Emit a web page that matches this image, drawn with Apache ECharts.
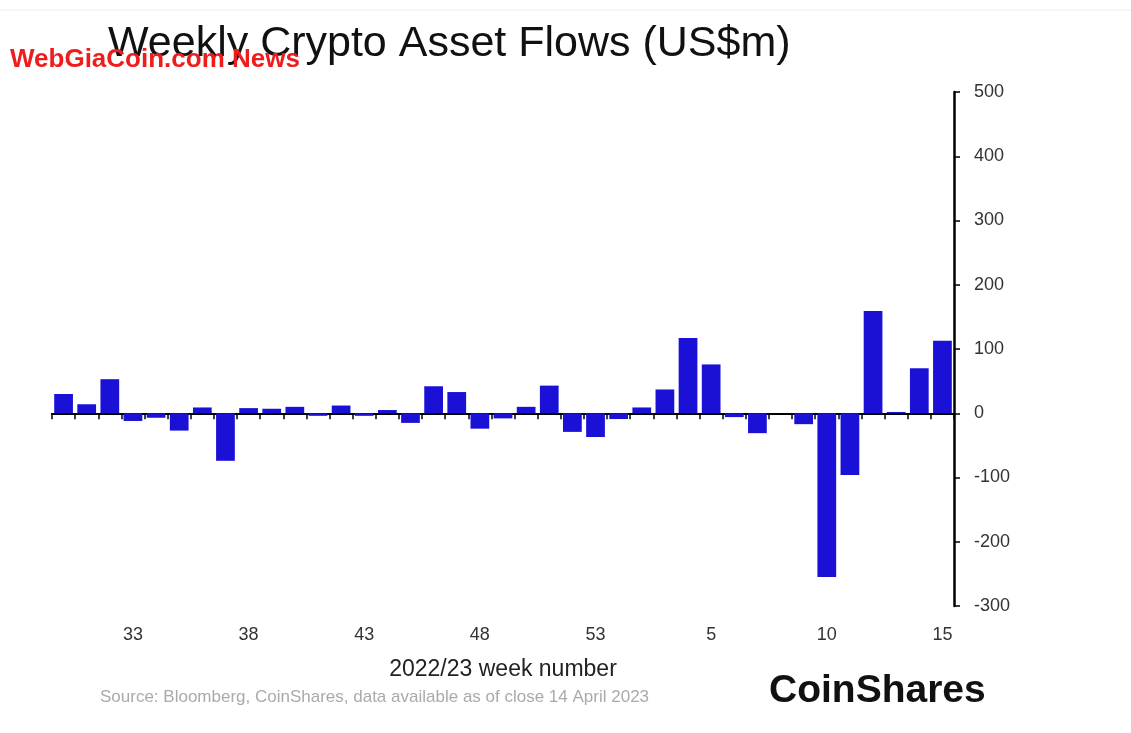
<!DOCTYPE html>
<html>
<head>
<meta charset="utf-8">
<script src="https://cdn.jsdelivr.net/npm/echarts@6/dist/echarts.min.js"></script>
<style>
html,body{margin:0;padding:0;background:#fff;}
#chart{width:1131px;height:733px;}
</style>
</head>
<body>
<div id="chart"></div>
<script>
const weeks = ['30','31','32','33','34','35','36','37','38','39','40','41','42','43','44','45','46','47','48','49','50','51','52','53',
               '1','2','3','4','5','6','7','8','9','10','11','12','13','14','15'];
const flows = [30,14,53,-12,-7,-27,9,-74,8,7,10,-4,12,-4,5,-15,42,33,-24,-8,10,43,-29,-37,
               -9,9,37,117,76,-6,-31,0,-17,-255,-96,159,2,70,113];
const yMin = -300, yMax = 500, yStep = 100;
const titleText = 'Weekly Crypto Asset Flows (US$m)';
const xAxisTitle = '2022/23 week number';
const sourceText = 'Source: Bloomberg, CoinShares, data available as of close 14 April 2023';
const brandText = 'CoinShares';
const watermarkText = 'WebGiaCoin.com News';

const chart = echarts.init(document.getElementById('chart'), null, {renderer:'canvas'});
const FONT = 'Liberation Sans, Arial, Helvetica, sans-serif';
chart.setOption({
  animation:false,
  backgroundColor:'#ffffff',
  title:{
    text:titleText, left:103, top:18,
    textStyle:{fontFamily:FONT, fontSize:43, fontWeight:'normal', color:'#111'}
  },
  grid:{left:52, right:177, top:92, bottom:127, containLabel:false},
  xAxis:[{
    type:'category', data:weeks, boundaryGap:true,
    axisLine:{show:true, onZero:true, lineStyle:{color:'#000', width:2}},
    axisTick:{show:true, interval:0, length:6, inside:false, lineStyle:{color:'#000', width:1.5}},
    axisLabel:{show:false}, splitLine:{show:false}
  },{
    type:'category', data:weeks, position:'bottom', boundaryGap:true,
    axisLine:{show:false}, axisTick:{show:false}, splitLine:{show:false},
    axisLabel:{show:true, interval:function(i){return (i-3)%5===0;}, margin:20,
      fontFamily:FONT, fontSize:18, color:'#333', hideOverlap:false},
    name:xAxisTitle, nameLocation:'middle', nameGap:52,
    nameTextStyle:{fontFamily:FONT, fontSize:23, color:'#222'}
  }],
  yAxis:{
    type:'value', position:'right', min:yMin, max:yMax, interval:yStep,
    axisLine:{show:true, lineStyle:{color:'#000', width:2.5}},
    axisTick:{show:true, length:6, lineStyle:{color:'#000', width:1.5}},
    axisLabel:{margin:20, fontFamily:FONT, fontSize:18, color:'#333'},
    splitLine:{show:false}
  },
  series:[{
    type:'bar', data:flows, xAxisIndex:0, barCategoryGap:'19%',
    itemStyle:{color:'#1a10d6'}
  }],
  graphic:[
    {type:'line', shape:{x1:0,y1:10,x2:1131,y2:10}, style:{stroke:'#eeeeee', lineWidth:1}},
    {type:'text', left:100, top:689, style:{text:sourceText, font:'17px Liberation Sans, Arial, sans-serif', fill:'#aaaaaa'}},
    {type:'text', left:769, top:672, style:{text:brandText, font:'bold 39px Liberation Sans, Arial, sans-serif', fill:'#111'}},
    {type:'text', left:10, top:47, z:100, style:{text:watermarkText, font:'bold 26px Liberation Sans, Arial, sans-serif', fill:'#ee1c1c'}}
  ]
});
</script>
</body>
</html>
